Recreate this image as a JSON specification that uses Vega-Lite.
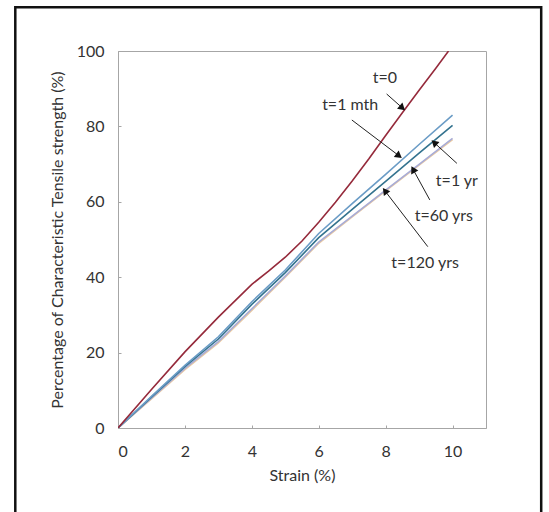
{
  "$schema": "https://vega.github.io/schema/vega-lite/v6.json",
  "width": 368,
  "height": 377,
  "autosize": {"type": "none"},
  "padding": {"left": 118, "top": 51, "right": 63, "bottom": 84},
  "background": "white",
  "config": {
    "view": {"stroke": "#a6a6a6", "strokeWidth": 1},
    "font": "Lato",
    "axis": {
      "domainColor": "#a6a6a6",
      "tickColor": "#a6a6a6",
      "grid": false,
      "labelFont": "Lato",
      "labelFontSize": 16,
      "labelColor": "#333333",
      "titleFont": "Lato",
      "titleFontSize": 16,
      "titleFontWeight": "normal",
      "titleColor": "#333333"
    }
  },
  "datasets": {
    "curves": [
      {"series": "t=120 yrs", "strain": 0, "pct": 0},
      {"series": "t=120 yrs", "strain": 1, "pct": 7.7},
      {"series": "t=120 yrs", "strain": 2, "pct": 15.5},
      {"series": "t=120 yrs", "strain": 3, "pct": 22.6},
      {"series": "t=120 yrs", "strain": 4, "pct": 31.2},
      {"series": "t=120 yrs", "strain": 5, "pct": 40.0},
      {"series": "t=120 yrs", "strain": 6, "pct": 49.0},
      {"series": "t=120 yrs", "strain": 7, "pct": 56.0},
      {"series": "t=120 yrs", "strain": 8, "pct": 62.9},
      {"series": "t=120 yrs", "strain": 9, "pct": 69.7},
      {"series": "t=120 yrs", "strain": 10, "pct": 76.5},
      {"series": "t=60 yrs", "strain": 0, "pct": 0},
      {"series": "t=60 yrs", "strain": 1, "pct": 7.9},
      {"series": "t=60 yrs", "strain": 2, "pct": 15.8},
      {"series": "t=60 yrs", "strain": 3, "pct": 22.9},
      {"series": "t=60 yrs", "strain": 4, "pct": 31.6},
      {"series": "t=60 yrs", "strain": 5, "pct": 40.3},
      {"series": "t=60 yrs", "strain": 6, "pct": 49.3},
      {"series": "t=60 yrs", "strain": 7, "pct": 56.2},
      {"series": "t=60 yrs", "strain": 8, "pct": 63.1},
      {"series": "t=60 yrs", "strain": 9, "pct": 69.9},
      {"series": "t=60 yrs", "strain": 10, "pct": 76.8},
      {"series": "t=1 yr", "strain": 0, "pct": 0},
      {"series": "t=1 yr", "strain": 1, "pct": 8.2},
      {"series": "t=1 yr", "strain": 2, "pct": 16.3},
      {"series": "t=1 yr", "strain": 3, "pct": 23.6},
      {"series": "t=1 yr", "strain": 4, "pct": 32.8},
      {"series": "t=1 yr", "strain": 5, "pct": 41.2},
      {"series": "t=1 yr", "strain": 6, "pct": 50.5},
      {"series": "t=1 yr", "strain": 7, "pct": 58.0},
      {"series": "t=1 yr", "strain": 8, "pct": 65.4},
      {"series": "t=1 yr", "strain": 9, "pct": 72.9},
      {"series": "t=1 yr", "strain": 10, "pct": 80.3},
      {"series": "t=1 mth", "strain": 0, "pct": 0},
      {"series": "t=1 mth", "strain": 1, "pct": 8.4},
      {"series": "t=1 mth", "strain": 2, "pct": 16.6},
      {"series": "t=1 mth", "strain": 3, "pct": 24.2},
      {"series": "t=1 mth", "strain": 4, "pct": 33.5},
      {"series": "t=1 mth", "strain": 5, "pct": 41.9},
      {"series": "t=1 mth", "strain": 6, "pct": 51.6},
      {"series": "t=1 mth", "strain": 7, "pct": 59.5},
      {"series": "t=1 mth", "strain": 8, "pct": 67.3},
      {"series": "t=1 mth", "strain": 9, "pct": 75.2},
      {"series": "t=1 mth", "strain": 10, "pct": 83.0},
      {"series": "t=0", "strain": 0, "pct": 0},
      {"series": "t=0", "strain": 1, "pct": 10.2},
      {"series": "t=0", "strain": 2, "pct": 20.2},
      {"series": "t=0", "strain": 3, "pct": 29.4},
      {"series": "t=0", "strain": 4, "pct": 38.1},
      {"series": "t=0", "strain": 4.5, "pct": 41.6},
      {"series": "t=0", "strain": 5, "pct": 45.3},
      {"series": "t=0", "strain": 5.5, "pct": 49.6},
      {"series": "t=0", "strain": 6, "pct": 54.6},
      {"series": "t=0", "strain": 6.5, "pct": 59.9},
      {"series": "t=0", "strain": 7, "pct": 65.5},
      {"series": "t=0", "strain": 7.5, "pct": 71.4},
      {"series": "t=0", "strain": 8, "pct": 77.6},
      {"series": "t=0", "strain": 8.5, "pct": 83.6},
      {"series": "t=0", "strain": 9, "pct": 89.6},
      {"series": "t=0", "strain": 9.5, "pct": 95.4},
      {"series": "t=0", "strain": 9.88, "pct": 100}
    ],
    "notes": [
      {"label": "t=0", "lx": 7.98, "ly": 92.8, "fx": 8.03, "fy": 88.6, "tx": 8.5, "ty": 84.9},
      {"label": "t=1 mth", "lx": 6.94, "ly": 85.7, "fx": 6.99, "fy": 81.7, "tx": 8.4, "ty": 72.2},
      {"label": "t=1 yr", "lx": 10.13, "ly": 65.4, "fx": 10.13, "fy": 70.2, "tx": 9.45, "ty": 75.7},
      {"label": "t=60 yrs", "lx": 9.74, "ly": 56.3, "fx": 9.32, "fy": 60.5, "tx": 8.82, "ty": 68.6},
      {"label": "t=120 yrs", "lx": 9.18, "ly": 43.7, "fx": 9.26, "fy": 48.1, "tx": 7.98, "ty": 62.9}
    ],
    "frame": [{"x0": -3.07, "x1": 12.65, "y0": -23, "y1": 111.6}]
  },
  "layer": [
    {
      "data": {"name": "frame"},
      "mark": {"type": "rect", "fill": null, "fillOpacity": 0, "stroke": "#111111", "strokeWidth": 2.5, "clip": false},
      "encoding": {
        "x": {"field": "x0", "type": "quantitative", "scale": {"domain": [0, 11], "nice": false, "zero": false}},
        "x2": {"field": "x1"},
        "y": {"field": "y0", "type": "quantitative", "scale": {"domain": [0, 100], "nice": false, "zero": false}},
        "y2": {"field": "y1"}
      }
    },
    {
      "data": {"name": "curves"},
      "mark": {"type": "line", "strokeWidth": 1.6, "clip": true},
      "encoding": {
        "x": {
          "field": "strain", "type": "quantitative",
          "scale": {"domain": [0, 11], "nice": false, "zero": false},
          "axis": {
            "title": "Strain (%)",
            "values": [0, 1, 2, 3, 4, 5, 6, 7, 8, 9, 10, 11],
            "labelExpr": "datum.value % 2 == 0 ? datum.label : ''",
            "tickSize": -3,
            "labelPadding": 18,
            "titlePadding": 8
          }
        },
        "y": {
          "field": "pct", "type": "quantitative",
          "scale": {"domain": [0, 100], "nice": false, "zero": false},
          "axis": {
            "title": "Percentage of Characteristic Tensile strength (%)",
            "values": [0, 10, 20, 30, 40, 50, 60, 70, 80, 90, 100],
            "labelExpr": "datum.value % 20 == 0 ? datum.label : ''",
            "tickSize": -3,
            "labelPadding": 17,
            "titlePadding": 11
          }
        },
        "color": {
          "field": "series", "type": "nominal",
          "scale": {
            "domain": ["t=0", "t=1 mth", "t=1 yr", "t=60 yrs", "t=120 yrs"],
            "range": ["#952a3b", "#6b9cc6", "#34738f", "#a8acd6", "#ebcaa2"]
          },
          "legend": null
        },
        "order": {"field": "strain", "type": "quantitative"},
        "detail": {"field": "series"}
      }
    },
    {
      "data": {"name": "notes"},
      "mark": {"type": "rule", "color": "#222222", "strokeWidth": 1},
      "encoding": {
        "x": {"field": "fx", "type": "quantitative"},
        "y": {"field": "fy", "type": "quantitative"},
        "x2": {"field": "tx"},
        "y2": {"field": "ty"}
      }
    },
    {
      "data": {"name": "notes"},
      "mark": {
        "type": "point", "shape": "triangle-up", "filled": true, "color": "#111111", "size": 65, "opacity": 1,
        "angle": {"expr": "atan2(scale('x', datum.tx) - scale('x', datum.fx), scale('y', datum.fy) - scale('y', datum.ty)) * 180 / PI"}
      },
      "encoding": {
        "x": {"field": "tx", "type": "quantitative"},
        "y": {"field": "ty", "type": "quantitative"}
      }
    },
    {
      "data": {"name": "notes"},
      "mark": {"type": "text", "font": "Lato", "fontSize": 16, "color": "#333333", "align": "center", "baseline": "middle"},
      "encoding": {
        "x": {"field": "lx", "type": "quantitative"},
        "y": {"field": "ly", "type": "quantitative"},
        "text": {"field": "label"}
      }
    }
  ]
}
